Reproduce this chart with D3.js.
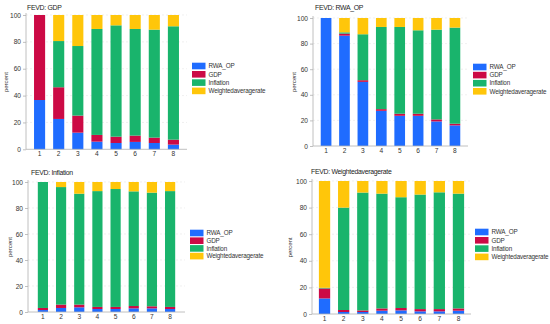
<!DOCTYPE html>
<html>
<head>
<meta charset="utf-8">
<script src="https://cdn.jsdelivr.net/npm/d3@7"></script>
<style>
  html, body { margin: 0; padding: 0; background: #fff; }
  svg { display: block; font-family: "Liberation Sans", Arial, sans-serif; }
</style>
</head>
<body>
<script>
const horizons = [1, 2, 3, 4, 5, 6, 7, 8];
const shocks = ["RWA_OP", "GDP", "Inflation", "Weightedaveragerate"];
const yTicks = [0, 20, 40, 60, 80, 100];

// FEVD: GDP
const GDP_RWA_OP = [36.7, 22.6, 12.4, 5.7, 4.7, 5.5, 4.7, 3.5];
const GDP_GDP = [63.3, 23.6, 12.7, 5.0, 4.7, 4.7, 4.0, 3.7];
const GDP_INFL = [0, 34.4, 51.8, 78.9, 82.9, 79.4, 80.4, 84.4];
const GDP_WAR = [0, 19.4, 23.1, 10.4, 7.7, 10.4, 10.9, 8.4];

// FEVD: RWA_OP
const RWA_RWA_OP = [100, 86.2, 50.1, 27.5, 23.6, 23.6, 19.2, 16.1];
const RWA_GDP = [0, 1.6, 1.3, 1.3, 1.6, 1.6, 1.6, 1.3];
const RWA_INFL = [0, 1.0, 35.9, 64.2, 67.8, 65.2, 70.1, 75.1];
const RWA_WAR = [0, 11.2, 12.7, 7.0, 7.0, 9.6, 9.1, 7.5];

// FEVD: Inflation
const INF_RWA_OP = [1.5, 3.1, 3.6, 2.3, 2.3, 2.8, 2.8, 2.3];
const INF_GDP = [1.6, 2.6, 2.1, 1.6, 1.6, 1.8, 1.6, 1.6];
const INF_INFL = [96.9, 90.4, 85.3, 89.1, 90.7, 88.2, 87.4, 89.1];
const INF_WAR = [0, 3.9, 9.0, 7.0, 5.4, 7.2, 8.2, 7.0];

// FEVD: Weightedaveragerate
const WAR_RWA_OP = [11.7, 1.5, 1.5, 2.5, 2.7, 2.0, 2.0, 2.5];
const WAR_GDP = [7.5, 1.5, 1.2, 1.7, 1.8, 1.7, 1.7, 1.7];
const WAR_INFL = [0.5, 77.0, 88.6, 86.3, 83.3, 86.1, 87.8, 86.3];
const WAR_WAR = [80.3, 20.0, 8.7, 9.5, 12.2, 10.2, 8.5, 9.5];

const COLORS = ["#1f6cff", "#cc0a45", "#19b46c", "#ffc60a"];

// each panel sits a little differently in the original, so layout is per panel
const panels = [
  {title: "FEVD: GDP", series: [GDP_RWA_OP, GDP_GDP, GDP_INFL, GDP_WAR],
   x0: 26, x1: 187, yTop: 15, yBot: 149.3, pi: 0.42, po: 0.42,
   titleX: 27, titleY: 9.5, labX: 6, legX: 192, legY: 66, legGap: 8.3},
  {title: "FEVD: RWA_OP", series: [RWA_RWA_OP, RWA_GDP, RWA_INFL, RWA_WAR],
   x0: 313, x1: 468, yTop: 18, yBot: 146, pi: 0.42, po: 0.42,
   titleX: 315, titleY: 9.5, labX: 294, legX: 473, legY: 67, legGap: 8.1},
  {title: "FEVD: Inflation", series: [INF_RWA_OP, INF_GDP, INF_INFL, INF_WAR],
   x0: 28, x1: 185, yTop: 182, yBot: 312, pi: 0.44, po: 0.54,
   titleX: 31, titleY: 174.5, labX: 10, legX: 190, legY: 233, legGap: 7.7},
  {title: "FEVD: Weightedaveragerate", series: [WAR_RWA_OP, WAR_GDP, WAR_INFL, WAR_WAR],
   x0: 312, x1: 471, yTop: 181, yBot: 314, pi: 0.41, po: 0.36,
   titleX: 311, titleY: 173.5, labX: 290, legX: 475, legY: 232, legGap: 8.3}
];

const svg = d3.select("body").append("svg")
  .attr("width", 550)
  .attr("height", 324);

for (const p of panels) drawPanel(p);

function drawPanel(p) {
  const rows = horizons.map((h, i) => {
    const row = {h};
    shocks.forEach((s, k) => (row[s] = p.series[k][i]));
    return row;
  });
  const stacked = d3.stack().keys(shocks)(rows);

  const x = d3.scaleBand().domain(horizons).range([p.x0, p.x1])
    .paddingInner(p.pi).paddingOuter(p.po);
  const y = d3.scaleLinear().domain([0, 100]).range([p.yBot, p.yTop]);

  const g = svg.append("g");

  // faint grid
  g.append("g")
    .selectAll("line")
    .data(yTicks.filter((t) => t > 0))
    .join("line")
    .attr("x1", p.x0)
    .attr("x2", p.x1)
    .attr("y1", (d) => y(d))
    .attr("y2", (d) => y(d))
    .attr("stroke", "#e6e6e6")
    .attr("stroke-width", 0.6)
    .attr("stroke-dasharray", "2,2");

  g.append("g")
    .selectAll("g")
    .data(stacked)
    .join("g")
    .attr("fill", (d, i) => COLORS[i])
    .selectAll("rect")
    .data((d) => d)
    .join("rect")
    .attr("x", (d) => x(d.data.h))
    .attr("width", x.bandwidth())
    .attr("y", (d) => y(d[1]))
    .attr("height", (d) => y(d[0]) - y(d[1]));

  g.append("g")
    .attr("transform", `translate(${p.x0},0)`)
    .call(d3.axisLeft(y).tickValues(yTicks).tickSize(3).tickPadding(2))
    .call((a) => a.select(".domain").attr("d", `M0,${p.yBot}V${p.yTop - 2}`))
    .call((a) => a.selectAll("line,path").attr("stroke", "#b0b0b0").attr("stroke-width", 0.8))
    .call((a) => a.selectAll("text").attr("fill", "#333").attr("font-size", 6.6)
      .attr("font-family", "Liberation Sans, Arial, sans-serif"));

  g.append("g")
    .attr("transform", `translate(0,${p.yBot})`)
    .call(d3.axisBottom(x).tickSize(0).tickPadding(2.5))
    .call((a) => a.select(".domain").attr("d", `M${p.x0},0H${p.x1}`))
    .call((a) => a.selectAll("line,path").attr("stroke", "#b0b0b0").attr("stroke-width", 0.8))
    .call((a) => a.selectAll("text").attr("fill", "#333").attr("font-size", 6.6)
      .attr("font-family", "Liberation Sans, Arial, sans-serif"));

  g.append("text")
    .attr("x", p.titleX)
    .attr("y", p.titleY)
    .attr("fill", "#222")
    .attr("font-size", 6.9)
    .attr("letter-spacing", -0.3)
    .text(p.title);

  g.append("text")
    .attr("transform", `translate(${p.labX},${(p.yTop + p.yBot) / 2}) rotate(-90)`)
    .attr("text-anchor", "middle")
    .attr("dy", "0.35em")
    .attr("fill", "#333")
    .attr("font-size", 6.2)
    .attr("letter-spacing", -0.1)
    .text("percent");

  const leg = g.append("g")
    .selectAll("g")
    .data(shocks)
    .join("g")
    .attr("transform", (d, i) => `translate(${p.legX},${p.legY + i * p.legGap})`);
  leg.append("rect")
    .attr("x", 0)
    .attr("y", -3.3)
    .attr("width", 13.5)
    .attr("height", 6.6)
    .attr("fill", (d, i) => COLORS[i]);
  leg.append("text")
    .attr("x", 16.5)
    .attr("dy", "0.35em")
    .attr("fill", "#333")
    .attr("font-size", 6.3)
    .attr("letter-spacing", -0.17)
    .text((d) => d);
}
</script>
</body>
</html>
